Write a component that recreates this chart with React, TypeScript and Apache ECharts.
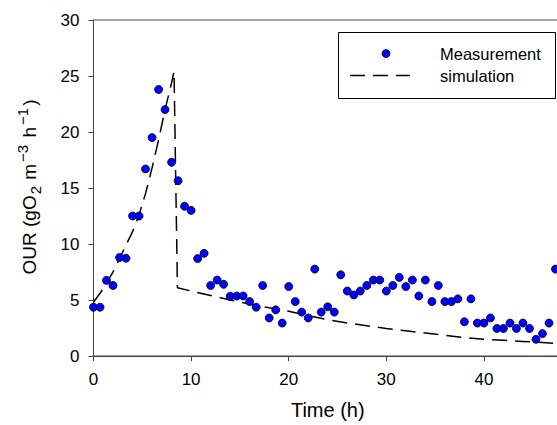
import React, { useEffect, useRef } from "react";
import * as echarts from "echarts";

const measTime = [0, 0.67, 1.33, 2, 2.67, 3.33, 4, 4.67, 5.33, 6, 6.67, 7.33, 8, 8.67, 9.33, 10, 10.67, 11.33, 12, 12.67, 13.33, 14, 14.67, 15.33, 16, 16.67, 17.33, 18, 18.67, 19.33, 20, 20.67, 21.33, 22, 22.67, 23.33, 24, 24.67, 25.33, 26, 26.67, 27.33, 28, 28.67, 29.33, 30, 30.67, 31.33, 32, 32.67, 33.33, 34, 34.67, 35.33, 36, 36.67, 37.33, 38, 38.67, 39.33, 40, 40.67, 41.33, 42, 42.67, 43.33, 44, 44.67, 45.33, 46, 46.67, 47.33];
const measOUR = [4.36, 4.36, 6.75, 6.3, 8.8, 8.73, 12.5, 12.5, 16.7, 19.5, 23.8, 22.0, 17.3, 15.65, 13.37, 13.0, 8.7, 9.17, 6.3, 6.78, 6.4, 5.33, 5.36, 5.36, 4.86, 4.36, 6.3, 3.4, 4.12, 2.94, 6.2, 4.86, 3.92, 3.4, 7.76, 3.92, 4.39, 3.92, 7.25, 5.8, 5.45, 5.8, 6.3, 6.78, 6.78, 5.8, 6.3, 7.02, 6.2, 6.78, 5.36, 6.78, 4.86, 6.3, 4.86, 4.86, 5.1, 3.06, 5.1, 2.94, 2.94, 3.4, 2.46, 2.46, 2.94, 2.46, 2.94, 2.46, 1.49, 2.0, 2.94, 7.76];

const simTime = [0, 0.67, 1.33, 2, 2.67, 3.33, 4, 4.67, 5.33, 6, 6.67, 7.33, 8, 8.25, 8.6, 10, 12, 14, 16, 18, 20, 22, 24, 26, 28, 30, 32, 34, 36, 38, 40, 42, 44, 46, 48];
const simOUR = [4.8, 5.6, 6.5, 7.5, 8.7, 9.9, 11.1, 12.6, 14.5, 16.8, 19.3, 22.0, 24.4, 25.4, 6.1, 5.8, 5.4, 5.0, 4.65, 4.3, 4.0, 3.6, 3.25, 2.95, 2.7, 2.45, 2.25, 2.05, 1.85, 1.65, 1.5, 1.4, 1.3, 1.2, 1.1];

const xRange = [0, 48];
const yRange = [0, 30];

const FONT = "'Liberation Sans', Arial, sans-serif";

export default function App() {
  const ref = useRef<HTMLDivElement>(null);
  useEffect(() => {
    if (!ref.current) return;
    const chart = echarts.init(ref.current, undefined, { renderer: "svg" });
    const axisColor = "#444";
    chart.setOption({
      animation: false,
      textStyle: { fontFamily: FONT },
      grid: {
        left: 93.5,
        top: 20,
        right: 38,
        bottom: 66.5,
        show: true,
        borderColor: axisColor,
        borderWidth: 1,
        backgroundColor: "transparent",
      },
      xAxis: {
        type: "value",
        min: xRange[0],
        max: xRange[1],
        interval: 10,
        axisLine: { show: true, lineStyle: { color: axisColor, width: 1 } },
        axisTick: { show: true, length: 5, lineStyle: { color: axisColor } },
        splitLine: { show: false },
        axisLabel: { fontSize: 17, color: "#000", margin: 15, fontFamily: FONT, showMaxLabel: false },
        name: "Time (h)",
        nameLocation: "middle",
        nameGap: 44,
        nameTextStyle: { fontSize: 20, color: "#000", fontFamily: FONT },
      },
      yAxis: {
        type: "value",
        min: yRange[0],
        max: yRange[1],
        interval: 5,
        axisLine: { show: true, lineStyle: { color: axisColor, width: 1 } },
        axisTick: { show: true, length: 5, lineStyle: { color: axisColor } },
        splitLine: { show: false },
        axisLabel: { fontSize: 17, color: "#000", margin: 14, fontFamily: FONT },
      },
      graphic: [
        {
          type: "text",
          x: 29,
          y: 187,
          rotation: Math.PI / 2,
          style: {
            text: "{n|OUR (gO}{sub|2}{n| m}{sup|−3}{n| h}{sup|−1}{n|)}",
            align: "center",
            verticalAlign: "middle",
            textAlign: "center",
            textVerticalAlign: "middle",
            fill: "#000",
            rich: {
              n: { fontSize: 19, lineHeight: 28, fontFamily: FONT, color: "#000" },
              sub: { fontSize: 15, verticalAlign: "bottom", fontFamily: FONT, color: "#000", padding: [0, 1, 0, 1] },
              sup: { fontSize: 15, verticalAlign: "top", fontFamily: FONT, color: "#000", padding: [0, 2, 0, 2] },
            },
          },
        },
        {
          type: "group",
          z: 100,
          children: [
            {
              type: "rect",
              shape: { x: 338.5, y: 32.5, width: 217, height: 66 },
              style: { fill: "#fff", stroke: "#000", lineWidth: 1 },
            },
            {
              type: "circle",
              shape: { cx: 386, cy: 53.5, r: 4 },
              style: { fill: "#0000ff", stroke: "#000", lineWidth: 0.8 },
            },
            {
              type: "line",
              shape: { x1: 350, y1: 75.5, x2: 410, y2: 75.5 },
              style: { stroke: "#000", lineWidth: 1.5, lineDash: [15, 8] },
            },
            {
              type: "text",
              x: 440,
              y: 53.5,
              style: { text: "Measurement", fontSize: 16.5, fontFamily: FONT, fill: "#000", verticalAlign: "middle", textVerticalAlign: "middle" },
            },
            {
              type: "text",
              x: 440,
              y: 75.5,
              style: { text: "simulation", fontSize: 16.5, fontFamily: FONT, fill: "#000", verticalAlign: "middle", textVerticalAlign: "middle" },
            },
          ],
        },
      ],
      series: [
        {
          name: "simulation",
          type: "line",
          data: simTime.map((t, i) => [t, simOUR[i]]),
          showSymbol: false,
          symbol: "none",
          lineStyle: { color: "#000", width: 1.5, type: [15, 8] },
          z: 2,
        },
        {
          name: "Measurement",
          type: "scatter",
          data: measTime.map((t, i) => [t, measOUR[i]]),
          symbol: "circle",
          symbolSize: 8,
          itemStyle: { color: "#0000ff", borderColor: "#000", borderWidth: 0.8, opacity: 1 },
          z: 3,
        },
      ],
    });
    return () => chart.dispose();
  }, []);
  return (
    <div style={{ position: "absolute", left: 0, top: 0, width: 557, height: 425, overflow: "hidden", background: "#fff" }}>
      <div ref={ref} style={{ width: 600, height: 425 }} />
    </div>
  );
}
